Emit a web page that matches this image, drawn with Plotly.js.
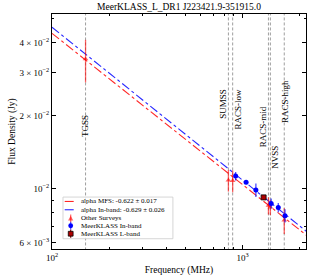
<!DOCTYPE html>
<html><head><meta charset="utf-8">
<script src="https://cdn.plot.ly/plotly-3.0.1.min.js"></script>
<style>html,body{margin:0;padding:0;background:#fff}#chart{width:309px;height:280px}</style>
</head><body><div id="chart"></div>
<script>
// ---- data ----
const surveyNames = ['TGSS', 'SUMSS', 'RACS-low', 'RACS-mid', 'NVSS', 'RACS-high'];
const surveyFreqs = [150, 843, 887.5, 1367.5, 1400, 1655.5];
const surveyFlux  = [0.0342, 0.01085, 0.0108, 0.00855, 0.0084, 0.00743];
const surveyErr   = [0.0068, 0.0011, 0.0011, 0.0007, 0.0006, 0.0009];

const inbandFreqs = [920, 1044, 1175, 1413, 1540, 1670];
const inbandFlux  = [0.01129, 0.01065, 0.00989, 0.00872, 0.00838, 0.00776];
const inbandErr   = [0.00045, 0.0002, 0.00063, 0.00041, 0.00037, 0.00049];

const lbandFreqs = [1290];
const lbandFlux  = [0.00923];
const lbandErr   = [0.0002];

const fitFreqs  = [100, 2200];
const fitMfs    = [0.0436, 0.00638];
const fitInband = [0.0462, 0.00662];

const legendLabels = ['alpha MFS: -0.622 ± 0.017', 'alpha In-band: -0.629 ± 0.026',
                      'Other Surveys', 'MeerKLASS In-band', 'MeerKLASS L-band'];

const yTickVals = [0.006, 0.01, 0.02, 0.03, 0.04];
const yTickText = ['6 × 10<sup>−3</sup>', '10<sup>−2</sup>', '2 × 10<sup>−2</sup>', '3 × 10<sup>−2</sup>', '4 × 10<sup>−2</sup>'];
const yMinorVals = [0.007, 0.008, 0.009, 0.05];
const xTickVals = [100, 1000];
const xTickText = ['10<sup>2</sup>', '10<sup>3</sup>'];
const xMinorVals = [200, 300, 400, 500, 600, 700, 800, 900, 2000];

// ---- layout constants ----
const FONT = 'Liberation Serif, DejaVu Serif, serif';
const labelShift = [0, -5, 5, -6, 5, 0];
const labelYPaper = [0.522, 0.620, 0.596, 0.520, 0.390, 0.627];

const traces = [];
// vertical survey lines
surveyFreqs.forEach(f => {
  traces.push({x: [f, f], y: [1e-4, 1], mode: 'lines', showlegend: false, hoverinfo: 'skip',
    line: {color: 'rgba(128,128,128,0.85)', width: 0.9, dash: '3px,2px'}});
});
traces.push({x: fitFreqs, y: fitMfs, mode: 'lines', name: legendLabels[0],
  line: {color: 'rgba(255,0,0,0.85)', width: 1.1, dash: 'dashdot'}});
traces.push({x: fitFreqs, y: fitInband, mode: 'lines', name: legendLabels[1],
  line: {color: 'rgba(0,0,255,0.85)', width: 1.1, dash: 'dashdot'}});
traces.push({x: surveyFreqs, y: surveyFlux, mode: 'markers', name: legendLabels[2],
  marker: {symbol: 'triangle-up', size: 5, color: 'rgba(255,0,0,0.6)'},
  error_y: {type: 'data', array: surveyErr, width: 0, thickness: 1.3, color: 'rgba(255,0,0,0.6)'}});
traces.push({x: inbandFreqs, y: inbandFlux, mode: 'markers', name: legendLabels[3],
  marker: {symbol: 'circle', size: 5, color: '#0000ff'},
  error_y: {type: 'data', array: inbandErr, width: 0, thickness: 1.3, color: 'rgba(0,0,255,0.7)'}});
traces.push({x: lbandFreqs, y: lbandFlux, mode: 'markers', name: legendLabels[4],
  marker: {symbol: 'square', size: 5, color: '#b00000', line: {color: '#000', width: 0.8}},
  error_y: {type: 'data', array: lbandErr, width: 0, thickness: 1.3, color: '#8b0000'}});

const annotations = surveyNames.map((n, i) => ({
  text: n, x: Math.log10(surveyFreqs[i]), xref: 'x', y: labelYPaper[i], yref: 'paper',
  textangle: -90, showarrow: false, xanchor: 'center', yanchor: 'middle', xshift: labelShift[i],
  font: {family: FONT, size: 9, color: '#000'}
}));

// manual legend
const legX = 0.0736, legTextX = 0.109;
const rowY = [0.2023, 0.1670, 0.1300, 0.0990, 0.0650];
const shapes = [{type: 'rect', xref: 'paper', yref: 'paper', x0: 0.0433, x1: 0.476, y0: 0.0438, y1: 0.221,
  line: {color: '#cccccc', width: 0.8}, fillcolor: 'rgba(255,255,255,0.85)'}];
function pxShape(o, i) {
  return Object.assign({xref: 'paper', yref: 'paper', xsizemode: 'pixel', ysizemode: 'pixel',
    xanchor: legX, yanchor: rowY[i]}, o);
}
shapes.push(pxShape({type: 'line', x0: -6, x1: 6, y0: 0, y1: 0, line: {color: 'rgba(255,0,0,0.85)', width: 1.1, dash: 'dashdot'}}, 0));
shapes.push(pxShape({type: 'line', x0: -6, x1: 6, y0: 0, y1: 0, line: {color: 'rgba(0,0,255,0.85)', width: 1.1, dash: 'dashdot'}}, 1));
shapes.push(pxShape({type: 'line', x0: 0, x1: 0, y0: -4, y1: 4, line: {color: 'rgba(255,0,0,0.6)', width: 1.2}}, 2));
shapes.push(pxShape({type: 'path', path: 'M -2.6 -2 L 2.6 -2 L 0 2.6 Z', fillcolor: 'rgba(255,0,0,0.6)', line: {width: 0}}, 2));
shapes.push(pxShape({type: 'line', x0: 0, x1: 0, y0: -4, y1: 4, line: {color: 'rgba(0,0,255,0.7)', width: 1.2}}, 3));
shapes.push(pxShape({type: 'circle', x0: -2.4, x1: 2.4, y0: -2.4, y1: 2.4, fillcolor: '#0000ff', line: {width: 0}}, 3));
shapes.push(pxShape({type: 'line', x0: 0, x1: 0, y0: -4, y1: 4, line: {color: '#8b0000', width: 1.2}}, 4));
shapes.push(pxShape({type: 'rect', x0: -2.4, x1: 2.4, y0: -2.4, y1: 2.4, fillcolor: '#b00000', line: {color: '#000', width: 0.8}}, 4));
legendLabels.forEach((t, i) => annotations.push({
  text: t, x: legTextX, y: rowY[i], xref: 'paper', yref: 'paper', xanchor: 'left', yanchor: 'middle',
  showarrow: false, borderpad: 0, font: {family: FONT, size: 7, color: '#000'}
}));

const axisCommon = {
  showline: true, linecolor: '#000', linewidth: 1, mirror: 'ticks', showgrid: false, zeroline: false,
  ticks: 'inside', ticklen: 4, tickwidth: 0.8, tickcolor: '#000', tickmode: 'array',
  tickfont: {family: FONT, size: 9, color: '#000'}
};
const layout = {
  width: 309, height: 280,
  margin: {l: 52, r: 3, t: 14, b: 31},
  paper_bgcolor: '#fff', plot_bgcolor: '#fff',
  showlegend: false,
  title: {text: 'MeerKLASS_L_DR1 J223421.9-351915.0', x: 0.5, xref: 'paper', xanchor: 'center',
    y: 0.975, yref: 'container', yanchor: 'middle', font: {family: FONT, size: 9.5, color: '#000'}},
  xaxis: Object.assign({}, axisCommon, {type: 'log', range: [2, 3.333], tickvals: xTickVals, ticktext: xTickText,
    minor: {tickvals: xMinorVals, ticks: 'inside', ticklen: 2, tickcolor: '#000', tickwidth: 0.8},
    title: {text: 'Frequency (MHz)', standoff: 4, font: {family: FONT, size: 9.5, color: '#000'}}}),
  yaxis: Object.assign({}, axisCommon, {type: 'log', range: [-2.247, -1.281], tickvals: yTickVals, ticktext: yTickText,
    minor: {tickvals: yMinorVals, ticks: 'inside', ticklen: 2, tickcolor: '#000', tickwidth: 0.8},
    title: {text: 'Flux Density (Jy)', standoff: 2, font: {family: FONT, size: 9.5, color: '#000'}}}),
  annotations: annotations, shapes: shapes
};
Plotly.newPlot('chart', traces, layout, {displayModeBar: false});
</script></body></html>
